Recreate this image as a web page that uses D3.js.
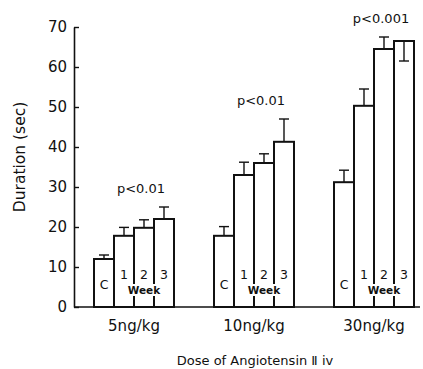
<!DOCTYPE html>
<html>
<head>
<meta charset="utf-8">
<script src="https://cdn.jsdelivr.net/npm/d3@7"></script>
<style>
  body { margin: 0; background: #fff; }
  svg text { font-family: "DejaVu Sans", sans-serif; fill: #111; }
</style>
</head>
<body>
<div id="chart"></div>
<script>
const doses = ["5ng/kg", "10ng/kg", "30ng/kg"];
const periods = ["C", "1", "2", "3"];
// mean duration (sec) for control and weeks 1-3
const means = [
  [12, 17.8, 19.8, 22],
  [17.8, 33, 36, 41.3],
  [31.2, 50.3, 64.5, 66.5]
];
// error bar lengths (negative = drawn downward)
const errors = [
  [1, 2.1, 2, 3],
  [2.3, 3.2, 2.3, 5.7],
  [3, 4.2, 3, -5]
];
const pLabels = ["p<0.01", "p<0.01", "p<0.001"];
const yTicks = [0, 10, 20, 30, 40, 50, 60, 70];

const width = 423, height = 369;
const axisX = 74, baseY = 307;

const svg = d3.select("#chart").append("svg")
  .attr("width", width)
  .attr("height", height);

const y = d3.scaleLinear().domain([0, 70]).range([baseY, 27]);

const x0 = d3.scaleBand()
  .domain(doses)
  .range([94, 414])
  .paddingInner(1 / 3)
  .paddingOuter(0);

const x1 = d3.scaleBand()
  .domain(periods)
  .range([0, x0.bandwidth()])
  .padding(0);

// y axis with inward ticks
const yAxis = svg.append("g")
  .attr("transform", `translate(${axisX},0)`)
  .call(d3.axisLeft(y).tickValues(yTicks).tickSizeInner(-5).tickSizeOuter(0).tickPadding(7));
yAxis.select(".domain").attr("stroke", "#111").attr("stroke-width", 1.6);
yAxis.selectAll(".tick line").attr("stroke", "#111").attr("stroke-width", 1.4);
yAxis.selectAll(".tick text")
  .style("font-size", "15px")
  .style("font-family", "'DejaVu Sans', sans-serif");

// x baseline
svg.append("line")
  .attr("x1", axisX).attr("x2", 420)
  .attr("y1", baseY).attr("y2", baseY)
  .attr("stroke", "#111").attr("stroke-width", 1.6);

const groups = svg.selectAll("g.dose")
  .data(doses)
  .enter().append("g")
  .attr("class", "dose")
  .attr("transform", d => `translate(${x0(d)},0)`);

groups.each(function(dose, gi) {
  const g = d3.select(this);
  const rows = periods.map((p, i) => ({ p, v: means[gi][i], e: errors[gi][i] }));

  // error bars (behind bars)
  g.selectAll("line.err")
    .data(rows)
    .enter().append("line")
    .attr("x1", d => x1(d.p) + x1.bandwidth() / 2)
    .attr("x2", d => x1(d.p) + x1.bandwidth() / 2)
    .attr("y1", d => y(d.v))
    .attr("y2", d => y(d.v + d.e))
    .attr("stroke", "#111").attr("stroke-width", 1.4);

  g.selectAll("line.cap")
    .data(rows)
    .enter().append("line")
    .attr("x1", d => x1(d.p) + x1.bandwidth() / 2 - 5)
    .attr("x2", d => x1(d.p) + x1.bandwidth() / 2 + 5)
    .attr("y1", d => y(d.v + d.e))
    .attr("y2", d => y(d.v + d.e))
    .attr("stroke", "#111").attr("stroke-width", 1.4);

  g.selectAll("rect.bar")
    .data(rows)
    .enter().append("rect")
    .attr("x", d => x1(d.p))
    .attr("y", d => y(d.v))
    .attr("width", x1.bandwidth())
    .attr("height", d => baseY - y(d.v))
    .attr("fill", d => d.e < 0 ? "none" : "#fff")
    .attr("stroke", "#111")
    .attr("stroke-width", 2);

  // labels inside bars
  g.append("text")
    .attr("x", x1("C") + x1.bandwidth() / 2)
    .attr("y", 285)
    .attr("dy", "0.35em")
    .attr("text-anchor", "middle")
    .style("font-size", "12.5px")
    .text("C");

  g.selectAll("text.wk")
    .data(periods.slice(1))
    .enter().append("text")
    .attr("x", d => x1(d) + x1.bandwidth() / 2)
    .attr("y", 275)
    .attr("dy", "0.35em")
    .attr("text-anchor", "middle")
    .style("font-size", "12.5px")
    .text(d => d);

  const wkCenter = (x1("1") + x1("3") + x1.bandwidth()) / 2;
  g.append("rect")
    .attr("x", wkCenter - 17)
    .attr("y", 284)
    .attr("width", 34)
    .attr("height", 12)
    .attr("fill", "#fff");
  g.append("text")
    .attr("x", wkCenter)
    .attr("y", 290)
    .attr("dy", "0.35em")
    .attr("text-anchor", "middle")
    .style("font-size", "10.5px")
    .style("font-weight", "bold")
    .text("Week");

  // significance label above the week bars
  const top = d3.max(rows, d => Math.max(d.v, d.v + d.e));
  g.append("text")
    .attr("x", wkCenter - 3)
    .attr("y", y(top) - 19)
    .attr("dy", "0.35em")
    .attr("text-anchor", "middle")
    .style("font-size", "13px")
    .text(pLabels[gi]);

  // dose label
  g.append("text")
    .attr("x", x0.bandwidth() / 2)
    .attr("y", 326)
    .attr("dy", "0.35em")
    .attr("text-anchor", "middle")
    .style("font-size", "15px")
    .text(dose);
});

// axis titles
svg.append("text")
  .attr("x", 255)
  .attr("y", 360)
  .attr("dy", "0.35em")
  .attr("text-anchor", "middle")
  .style("font-size", "13px")
  .text("Dose of Angiotensin \u2161 iv");

svg.append("text")
  .attr("transform", `translate(20,157) rotate(-90)`)
  .attr("dy", "0.35em")
  .attr("text-anchor", "middle")
  .style("font-size", "15.5px")
  .text("Duration (sec)");
</script>
</body>
</html>
